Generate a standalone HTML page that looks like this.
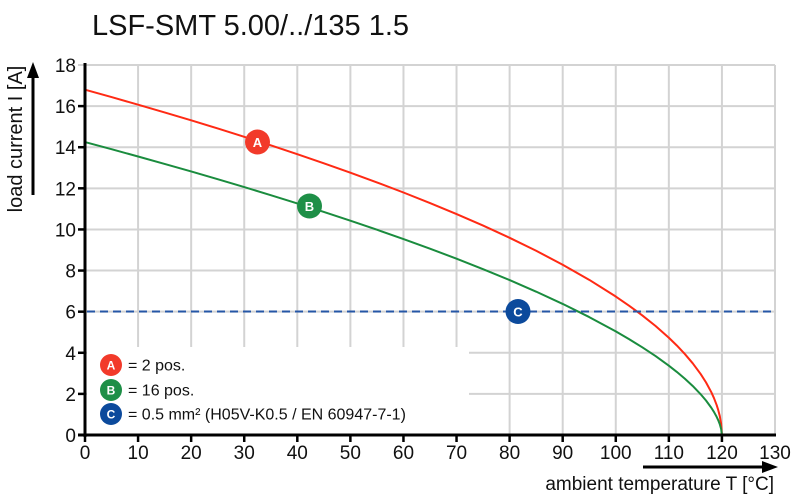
<!DOCTYPE html>
<html>
<head>
<meta charset="utf-8">
<style>
  html, body { margin: 0; padding: 0; background: #ffffff; }
  svg { display: block; }
  text { font-family: "Liberation Sans", Arial, sans-serif; fill: #111; }
</style>
</head>
<body>
<svg width="800" height="500" viewBox="0 0 800 500" xmlns="http://www.w3.org/2000/svg">
  <rect x="0" y="0" width="800" height="500" fill="#ffffff"/>

  <!-- Title -->
  <text x="92" y="35" font-size="29">LSF-SMT 5.00/../135 1.5</text>

  <!-- Grid -->
  <g stroke="#d3d3d3" stroke-width="2">
    <line x1="138.08" y1="65" x2="138.08" y2="435"/>
    <line x1="191.15" y1="65" x2="191.15" y2="435"/>
    <line x1="244.23" y1="65" x2="244.23" y2="435"/>
    <line x1="297.31" y1="65" x2="297.31" y2="435"/>
    <line x1="350.38" y1="65" x2="350.38" y2="435"/>
    <line x1="403.46" y1="65" x2="403.46" y2="435"/>
    <line x1="456.54" y1="65" x2="456.54" y2="435"/>
    <line x1="509.62" y1="65" x2="509.62" y2="435"/>
    <line x1="562.69" y1="65" x2="562.69" y2="435"/>
    <line x1="615.77" y1="65" x2="615.77" y2="435"/>
    <line x1="668.85" y1="65" x2="668.85" y2="435"/>
    <line x1="721.92" y1="65" x2="721.92" y2="435"/>
    <line x1="775" y1="65" x2="775" y2="435"/>
    <line x1="78" y1="65" x2="775" y2="65"/>
    <line x1="85" y1="106.11" x2="775" y2="106.11"/>
    <line x1="85" y1="147.22" x2="775" y2="147.22"/>
    <line x1="85" y1="188.33" x2="775" y2="188.33"/>
    <line x1="85" y1="229.44" x2="775" y2="229.44"/>
    <line x1="85" y1="270.56" x2="775" y2="270.56"/>
    <line x1="85" y1="311.67" x2="775" y2="311.67"/>
    <line x1="85" y1="352.78" x2="775" y2="352.78"/>
    <line x1="85" y1="393.89" x2="775" y2="393.89"/>
  </g>

  <!-- Legend white block -->
  <rect x="87" y="347" width="382" height="87" fill="#ffffff"/>

  <!-- Curve A (red) -->
  <polyline fill="none" stroke="#ff2a14" stroke-width="2" stroke-linejoin="round"
    points="85,89.66 111.54,97.08 138.08,104.65 164.62,112.40 191.15,120.33 217.69,128.45 244.23,136.79 270.77,145.35 297.31,154.18 323.85,163.27 350.38,172.67 376.92,182.39 403.46,192.50 430.00,203.01 456.54,214.02 483.08,225.59 509.62,237.79 536.15,250.78 562.69,264.70 589.23,279.83 615.77,296.53 629.04,305.64 642.31,315.41 655.58,326.03 668.85,337.75 676.81,345.48 684.77,353.93 692.73,363.30 700.69,374.06 706.00,382.36 711.31,392.20 713.96,398.05 716.62,404.95 718.21,409.95 719.80,416.16 721.12,423.58 721.92,435"/>

  <!-- Curve B (green) -->
  <polyline fill="none" stroke="#1a8c3e" stroke-width="2" stroke-linejoin="round"
    points="85,142.08 111.54,149.22 138.08,156.49 164.62,163.91 191.15,171.47 217.69,179.20 244.23,187.10 270.77,195.17 297.31,203.46 323.85,211.97 350.38,220.71 376.92,229.73 403.46,239.04 430.00,248.68 456.54,258.70 483.08,269.16 509.62,280.11 536.15,291.65 562.69,303.91 589.23,317.07 615.77,331.38 629.04,339.11 642.31,347.31 655.58,356.10 668.85,365.69 676.81,371.92 684.77,378.64 692.73,385.99 700.69,394.26 706.00,400.52 711.31,407.75 713.96,411.94 716.62,416.77 718.21,420.17 719.80,424.28 721.12,428.93 721.92,435"/>

  <!-- Dashed line C -->
  <line x1="87" y1="311.5" x2="776" y2="311.5" stroke="#2556a6" stroke-width="2" stroke-dasharray="8,5"/>

  <!-- Axes -->
  <line x1="85" y1="63" x2="85" y2="437" stroke="#000" stroke-width="3"/>
  <line x1="78" y1="435" x2="776" y2="435" stroke="#000" stroke-width="3"/>
  <g stroke="#000" stroke-width="2.5">
    <line x1="78" y1="106.11" x2="85" y2="106.11"/>
    <line x1="78" y1="147.22" x2="85" y2="147.22"/>
    <line x1="78" y1="188.33" x2="85" y2="188.33"/>
    <line x1="78" y1="229.44" x2="85" y2="229.44"/>
    <line x1="78" y1="270.56" x2="85" y2="270.56"/>
    <line x1="78" y1="311.67" x2="85" y2="311.67"/>
    <line x1="78" y1="352.78" x2="85" y2="352.78"/>
    <line x1="78" y1="393.89" x2="85" y2="393.89"/>
  </g>
  <g stroke="#000" stroke-width="2.5">
    <line x1="85" y1="435" x2="85" y2="442"/>
    <line x1="138.08" y1="435" x2="138.08" y2="442"/>
    <line x1="191.15" y1="435" x2="191.15" y2="442"/>
    <line x1="244.23" y1="435" x2="244.23" y2="442"/>
    <line x1="297.31" y1="435" x2="297.31" y2="442"/>
    <line x1="350.38" y1="435" x2="350.38" y2="442"/>
    <line x1="403.46" y1="435" x2="403.46" y2="442"/>
    <line x1="456.54" y1="435" x2="456.54" y2="442"/>
    <line x1="509.62" y1="435" x2="509.62" y2="442"/>
    <line x1="562.69" y1="435" x2="562.69" y2="442"/>
    <line x1="615.77" y1="435" x2="615.77" y2="442"/>
    <line x1="668.85" y1="435" x2="668.85" y2="442"/>
    <line x1="721.92" y1="435" x2="721.92" y2="442"/>
  </g>

  <!-- Y tick labels -->
  <g font-size="19" text-anchor="end">
    <text x="76" y="72">18</text>
    <text x="76" y="113.11">16</text>
    <text x="76" y="154.22">14</text>
    <text x="76" y="195.33">12</text>
    <text x="76" y="236.44">10</text>
    <text x="76" y="277.56">8</text>
    <text x="76" y="318.67">6</text>
    <text x="76" y="359.78">4</text>
    <text x="76" y="400.89">2</text>
    <text x="76" y="442">0</text>
  </g>

  <!-- X tick labels -->
  <g font-size="19" text-anchor="middle">
    <text x="85" y="459">0</text>
    <text x="138.08" y="459">10</text>
    <text x="191.15" y="459">20</text>
    <text x="244.23" y="459">30</text>
    <text x="297.31" y="459">40</text>
    <text x="350.38" y="459">50</text>
    <text x="403.46" y="459">60</text>
    <text x="456.54" y="459">70</text>
    <text x="509.62" y="459">80</text>
    <text x="562.69" y="459">90</text>
    <text x="615.77" y="459">100</text>
    <text x="668.85" y="459">110</text>
    <text x="721.92" y="459">120</text>
    <text x="775" y="459">130</text>
  </g>

  <!-- Y axis label + arrow -->
  <text x="0" y="0" font-size="20" text-anchor="middle" transform="translate(22,139) rotate(-90)">load current I [A]</text>
  <line x1="33" y1="195" x2="33" y2="76" stroke="#000" stroke-width="3"/>
  <polygon points="33,62 27,78 39,78" fill="#000"/>

  <!-- X axis label + arrow -->
  <text x="774" y="490" font-size="19" text-anchor="end">ambient temperature T [°C]</text>
  <line x1="643" y1="467" x2="765" y2="467" stroke="#000" stroke-width="3"/>
  <polygon points="778,467 762,461 762,473" fill="#000"/>

  <!-- Curve markers -->
  <circle cx="257.5" cy="142" r="12.5" fill="#f23a2a"/>
  <text x="257.5" y="146.8" font-size="13" font-weight="bold" text-anchor="middle" style="fill:#fff">A</text>
  <circle cx="309.5" cy="206" r="12.5" fill="#1e8f47"/>
  <text x="309.5" y="210.8" font-size="13" font-weight="bold" text-anchor="middle" style="fill:#fff">B</text>
  <circle cx="518" cy="311.5" r="12.5" fill="#0c4a9c"/>
  <text x="518" y="316.3" font-size="13" font-weight="bold" text-anchor="middle" style="fill:#fff">C</text>

  <!-- Legend -->
  <circle cx="111" cy="365" r="11" fill="#f23a2a"/>
  <text x="111" y="369.5" font-size="12" font-weight="bold" text-anchor="middle" style="fill:#fff">A</text>
  <text x="128" y="370.5" font-size="16">= 2 pos.</text>

  <circle cx="111" cy="390" r="11" fill="#1e8f47"/>
  <text x="111" y="394.5" font-size="12" font-weight="bold" text-anchor="middle" style="fill:#fff">B</text>
  <text x="128" y="395.5" font-size="16">= 16 pos.</text>

  <circle cx="111" cy="414" r="11" fill="#0c4a9c"/>
  <text x="111" y="418.5" font-size="12" font-weight="bold" text-anchor="middle" style="fill:#fff">C</text>
  <text x="128" y="419.5" font-size="16">= 0.5 mm² (H05V-K0.5 / EN 60947-7-1)</text>
</svg>
</body>
</html>
